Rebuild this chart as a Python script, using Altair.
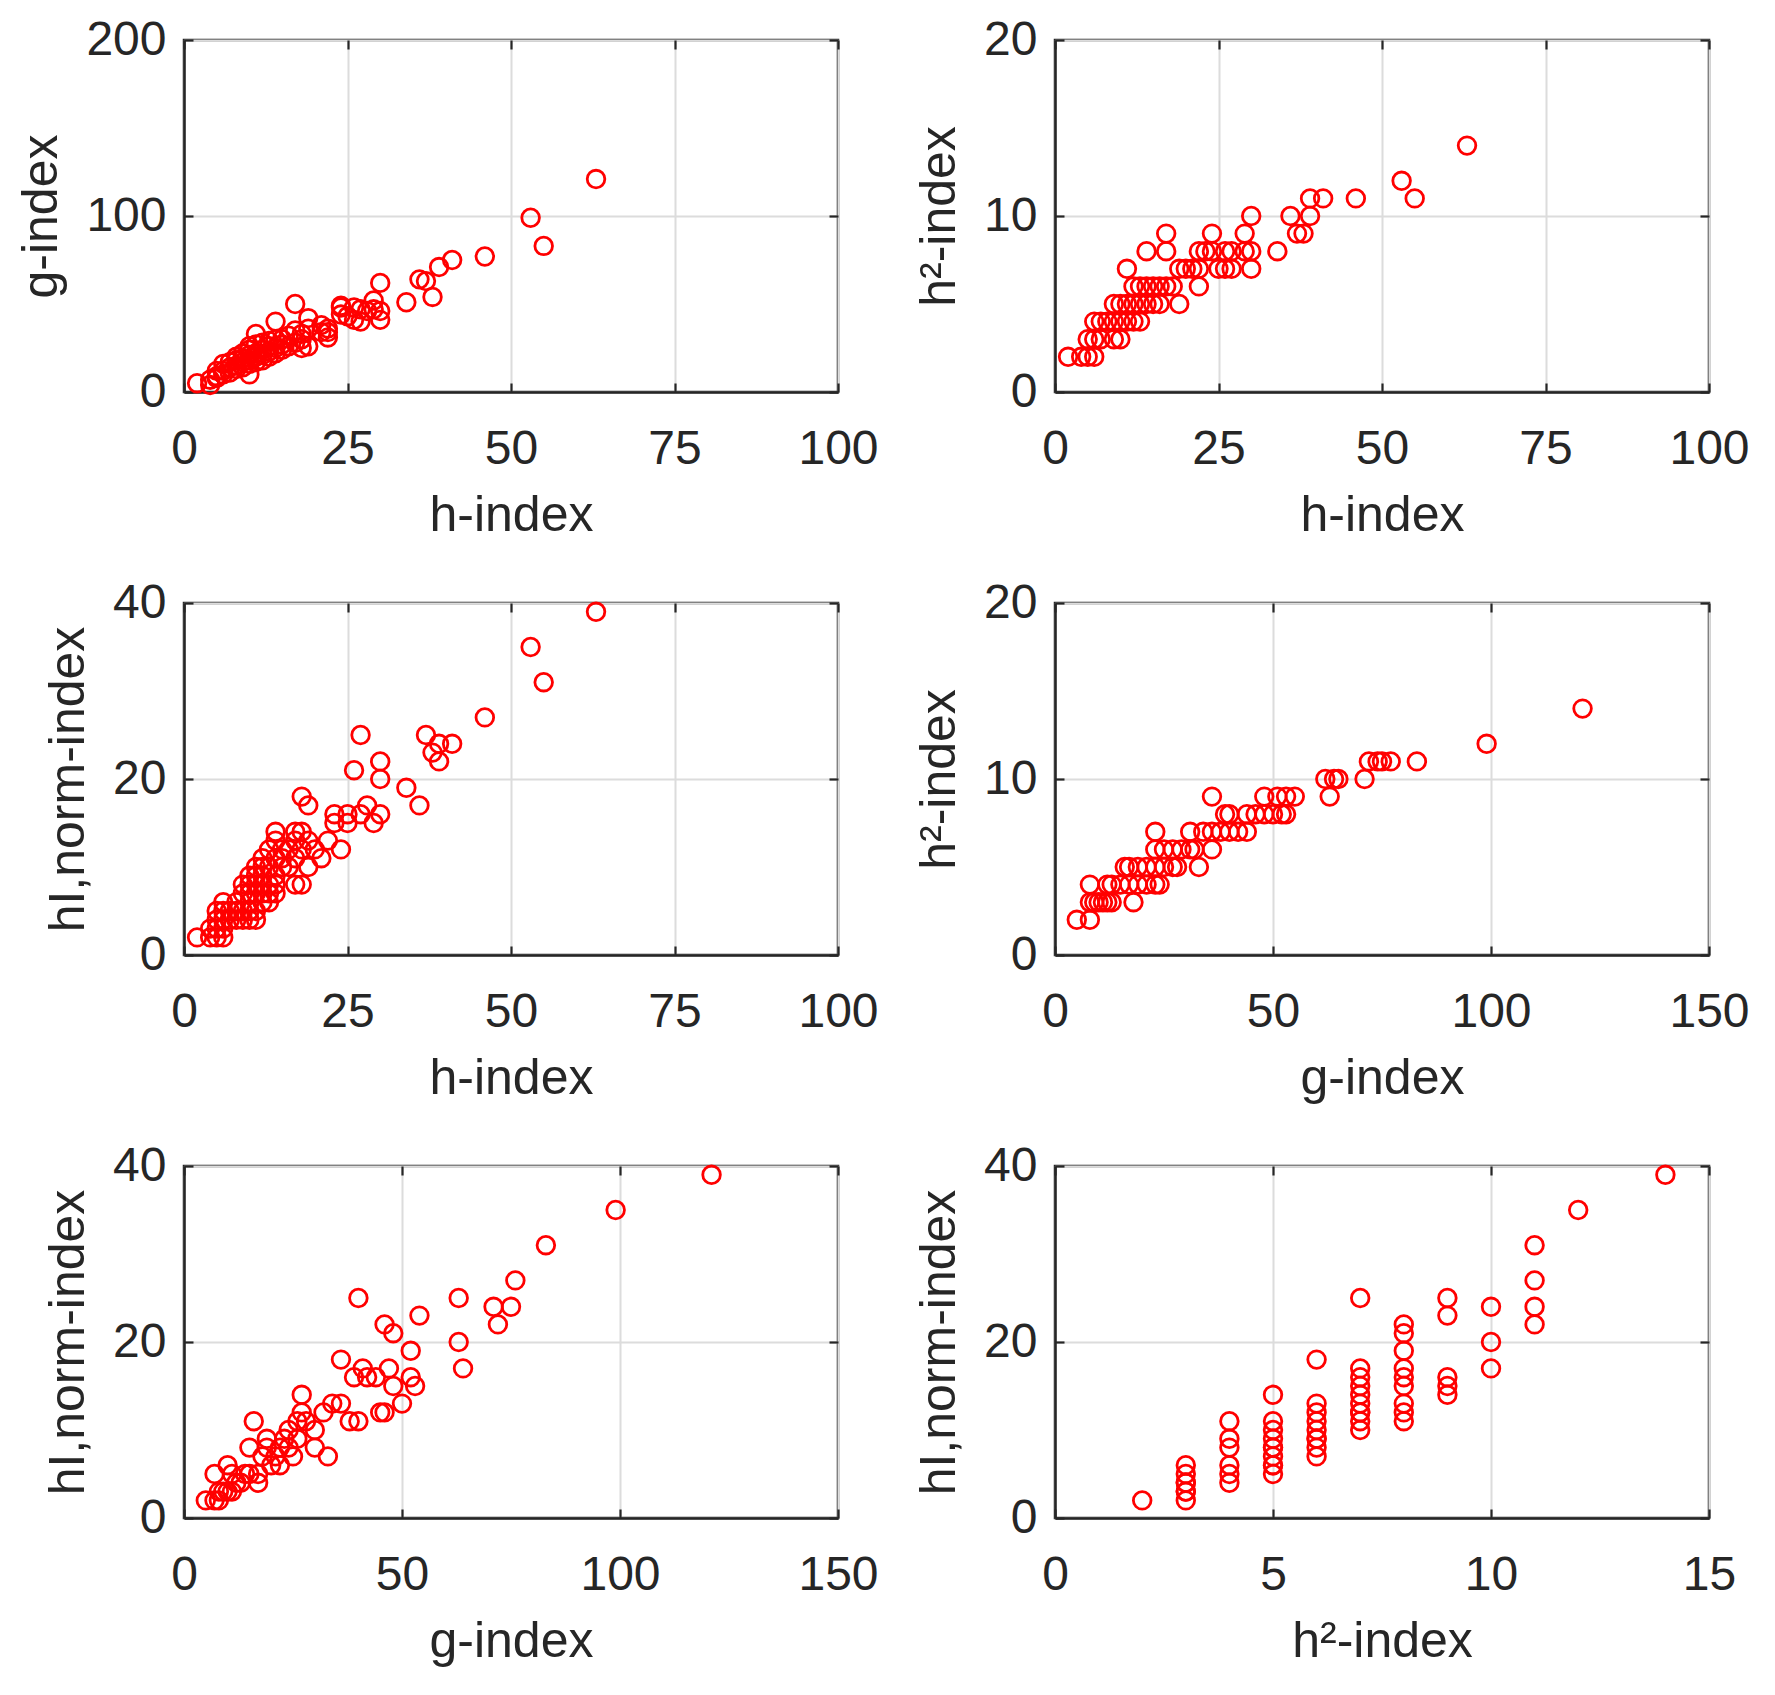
import altair as alt
import pandas as pd

# ---------------- data ----------------
# Panel 1: h-index vs g-index
p1_h = [2, 4, 4, 5, 5, 5, 6, 6, 6, 7, 7, 7, 8, 8, 8, 8, 9, 9, 9, 9, 10, 10, 10, 10, 10, 10,
        11, 11, 11, 11, 11, 12, 12, 12, 12, 13, 13, 13, 13, 14, 14, 14, 14, 15, 15, 15, 16, 16,
        17, 17, 17, 18, 18, 18, 19, 19, 19, 21, 21, 22, 22, 22, 24, 24, 24, 25, 26, 26, 27, 27,
        28, 29, 29, 30, 30, 30, 34, 36, 37, 38, 39, 41, 46, 53, 55, 63]
p1_g = [5, 4, 7, 9, 12, 8, 10, 12, 16, 11, 14, 17, 13, 15, 18, 20, 14, 17, 19, 22, 10, 16, 18, 21, 26, 24,
        17, 20, 22, 33, 27, 18, 21, 24, 28, 20, 23, 26, 29, 22, 25, 40, 30, 24, 27, 30, 26, 32,
        50, 28, 35, 25, 30, 33, 26, 42, 36, 38, 34, 31, 36, 34, 48, 44, 49, 43, 48, 41, 40, 47,
        46, 52, 47, 62, 41, 46, 51, 64, 63, 54, 71, 75, 77, 99, 83, 121]

# Panel 2: h-index vs h2-index
p2_h = [2, 4, 5, 6,
        5, 6, 7, 9, 10,
        6, 7, 8, 9, 10, 11, 12, 13,
        9, 10, 11, 12, 13, 14, 15, 16, 19,
        12, 13, 14, 15, 16, 17, 18, 22,
        11, 19, 20, 21, 22, 25, 26, 27, 30,
        14, 17, 22, 23, 24, 26, 27, 29, 30, 34,
        17, 24, 29, 37, 38,
        30, 36, 39,
        39, 41, 46, 55,
        53, 63]
p2_h2 = [2, 2, 2, 2,
         3, 3, 3, 3, 3,
         4, 4, 4, 4, 4, 4, 4, 4,
         5, 5, 5, 5, 5, 5, 5, 5, 5,
         6, 6, 6, 6, 6, 6, 6, 6,
         7, 7, 7, 7, 7, 7, 7, 7, 7,
         8, 8, 8, 8, 8, 8, 8, 8, 8, 8,
         9, 9, 9, 9, 9,
         10, 10, 10,
         11, 11, 11, 11,
         12, 14]

# Panel 3: h-index vs hI,norm-index
p3_h = [2, 4, 5, 6, 4, 5, 6, 5, 6, 7, 8, 9, 10, 11, 5, 6, 7, 8, 9, 10, 11, 6, 8, 10, 12, 13,
        9, 10, 11, 12, 13, 14, 9, 10, 11, 12, 13, 14, 17, 18, 10, 11, 12, 14, 11, 12, 13, 15, 16, 19,
        12, 14, 15, 17, 21, 13, 15, 16, 18, 20, 24, 14, 17, 19, 22, 14, 17, 18, 23, 25, 29, 23, 25,
        27, 30, 28, 36, 19, 18, 34, 30, 26, 30, 39, 38, 39, 41, 27, 37, 46, 55, 53, 63]
p3_hi = [2, 2, 2, 2, 3, 3, 3, 4, 4, 4, 4, 4, 4, 4, 5, 5, 5, 5, 5, 5, 5, 6, 6, 6, 6, 6,
         7, 7, 7, 7, 7, 7, 8, 8, 8, 8, 8, 8, 8, 8, 9, 9, 9, 9, 10, 10, 10, 10, 10, 10,
         11, 11, 11, 11, 11, 12, 12, 12, 12, 12, 12, 13, 13, 13, 13, 14, 14, 14, 15, 15, 15, 16, 16,
         16, 16, 17, 17, 17, 18, 19, 20, 21, 22, 22, 23, 24, 24, 25, 25, 27, 31, 35, 39]

# Panel 4: g-index vs h2-index
p4_g = [5, 8,
        8, 9, 10, 11, 12, 13, 18,
        8, 12, 13, 15, 17, 19, 21, 23, 24,
        16, 17, 19, 21, 23, 25, 27, 28, 33,
        23, 25, 27, 29, 31, 32, 36,
        23, 31, 34, 36, 38, 40, 42, 44,
        39, 40, 44, 46, 48, 50, 52, 53,
        36, 48, 51, 53, 55, 63,
        62, 64, 65, 71,
        72, 74, 75, 77, 83,
        99, 121]
p4_h2 = [2, 2,
         3, 3, 3, 3, 3, 3, 3,
         4, 4, 4, 4, 4, 4, 4, 4, 4,
         5, 5, 5, 5, 5, 5, 5, 5, 5,
         6, 6, 6, 6, 6, 6, 6,
         7, 7, 7, 7, 7, 7, 7, 7,
         8, 8, 8, 8, 8, 8, 8, 8,
         9, 9, 9, 9, 9, 9,
         10, 10, 10, 10,
         11, 11, 11, 11, 11,
         12, 14]

# Panel 5: g-index vs hI,norm-index
p5_g = [5, 7, 8, 8, 9, 10, 7, 10, 11, 12, 11, 13, 14, 15, 17, 17, 15, 16, 18, 19, 19, 20, 21, 22,
        22, 23, 24, 24, 25, 26, 26, 27, 27, 28, 30, 30, 33, 32, 34, 36, 36, 38, 40, 39, 41, 42, 44,
        45, 46, 47, 48, 50, 52, 53, 52, 46, 48, 54, 40, 63, 63, 64, 71, 72, 75, 76, 83, 99, 121]
p5_hi = [2, 2, 2, 3, 3, 3, 5, 6, 3, 4, 5, 4, 5, 5, 4, 5, 8, 11, 7, 9, 8, 6, 7, 8,
         6, 9, 10, 8, 7, 9, 11, 12, 14, 11, 8, 10, 7, 12, 13, 13, 18, 11, 11, 16, 17, 16, 16,
         12, 12, 17, 15, 13, 16, 15, 19, 22, 21, 23, 25, 25, 20, 17, 24, 22, 24, 27, 31, 35, 39]

# Panel 6: h2-index vs hI,norm-index
p6_h2 = [2,
         3, 3, 3, 3, 3, 3, 3,
         4, 4, 4, 4, 4, 4,
         5, 5, 5, 5, 5, 5, 5, 5, 5, 5,
         6, 6, 6, 6, 6, 6, 6, 6, 6,
         7, 7, 7, 7, 7, 7, 7, 7, 7, 7,
         8, 8, 8, 8, 8, 8, 8, 8, 8,
         9, 9, 9, 9, 9,
         10, 10, 10,
         11, 11, 11, 11,
         12, 14]
p6_hi = [2,
         2, 3, 4, 5, 6, 3, 4,
         4, 5, 6, 8, 9, 11,
         5, 6, 7, 8, 9, 10, 11, 14, 6, 8,
         7, 8, 9, 10, 11, 12, 13, 18, 9,
         10, 11, 12, 13, 14, 15, 16, 17, 25, 12,
         11, 12, 13, 15, 16, 17, 19, 21, 22,
         14, 15, 16, 23, 25,
         17, 20, 24,
         22, 24, 27, 31,
         35, 39]

H = "h-index"
G = "g-index"
H2 = "h\u00b2-index"
HI = "hI,norm-index"

W, HGT = 654, 352
FONT = "Liberation Sans"
TXT = "#262626"
TICK = 9


def tick_axis(vals, orient, offset):
    # label-less axis used only to draw MATLAB-style inward tick marks
    return alt.Axis(values=vals, orient=orient, offset=offset, labels=False, domain=False,
                    grid=False, ticks=True, tickSize=TICK, tickWidth=2.2, tickColor=TXT,
                    title=None, minExtent=0, maxExtent=TICK + 1)


def panel(xs, ys, xtitle, ytitle, xdom, xticks, ydom, yticks):
    df = pd.DataFrame({"x": xs, "y": ys})
    sx = alt.Scale(domain=xdom, nice=False, zero=False)
    sy = alt.Scale(domain=ydom, nice=False, zero=False)
    main = alt.Chart(df).mark_point(
        shape="circle", filled=False, color="#ff0000", size=310, strokeWidth=2.8, opacity=1
    ).encode(
        x=alt.X("x:Q", scale=sx, axis=alt.Axis(values=xticks, title=xtitle, format="d")),
        y=alt.Y("y:Q", scale=sy, axis=alt.Axis(values=yticks, title=ytitle, format="d")),
    )
    # inward ticks along top and right edges
    g1 = alt.Chart(df).mark_point(opacity=0).encode(
        x=alt.X("x:Q", scale=sx, axis=tick_axis(xticks, "top", -TICK)),
        y=alt.Y("y:Q", scale=sy, axis=tick_axis(yticks, "right", -TICK)),
    )
    # inward ticks along bottom and left edges
    g2 = alt.Chart(df).mark_point(opacity=0).encode(
        x=alt.X("x:Q", scale=sx, axis=tick_axis(xticks, "top", -HGT)),
        y=alt.Y("y:Q", scale=sy, axis=tick_axis(yticks, "right", -W)),
    )
    return alt.layer(main, g1, g2).resolve_axis(
        x="independent", y="independent"
    ).properties(width=W, height=HGT)


c1 = panel(p1_h, p1_g, H, G, [0, 100], [0, 25, 50, 75, 100], [0, 200], [0, 100, 200])
c2 = panel(p2_h, p2_h2, H, H2, [0, 100], [0, 25, 50, 75, 100], [0, 20], [0, 10, 20])
c3 = panel(p3_h, p3_hi, H, HI, [0, 100], [0, 25, 50, 75, 100], [0, 40], [0, 20, 40])
c4 = panel(p4_g, p4_h2, G, H2, [0, 150], [0, 50, 100, 150], [0, 20], [0, 10, 20])
c5 = panel(p5_g, p5_hi, G, HI, [0, 150], [0, 50, 100, 150], [0, 40], [0, 20, 40])
c6 = panel(p6_h2, p6_hi, H2, HI, [0, 15], [0, 5, 10, 15], [0, 40], [0, 20, 40])

chart = alt.concat(
    c1, c2, c3, c4, c5, c6, columns=2, spacing={"row": 35, "column": 33}
).properties(
    padding={"left": 7, "top": 6, "right": 5, "bottom": 5},
    background="white",
).configure_view(
    stroke=TXT, strokeWidth=2.5
).configure_axis(
    labelFont=FONT, titleFont=FONT, labelFontSize=48, titleFontSize=50,
    titleFontWeight="normal", labelColor=TXT, titleColor=TXT,
    domainColor=TXT, domainWidth=2.5, gridColor="#dcdcdc", gridWidth=2,
    ticks=False, tickSize=0, labelFlush=False, labelOverlap=False,
).configure_axisBottom(
    labelPadding=33, minExtent=80, maxExtent=80, titlePadding=18
).configure_axisLeft(
    labelPadding=18, titlePadding=19
)

chart.save("out.html", embed_options={"renderer": "svg", "actions": False})
